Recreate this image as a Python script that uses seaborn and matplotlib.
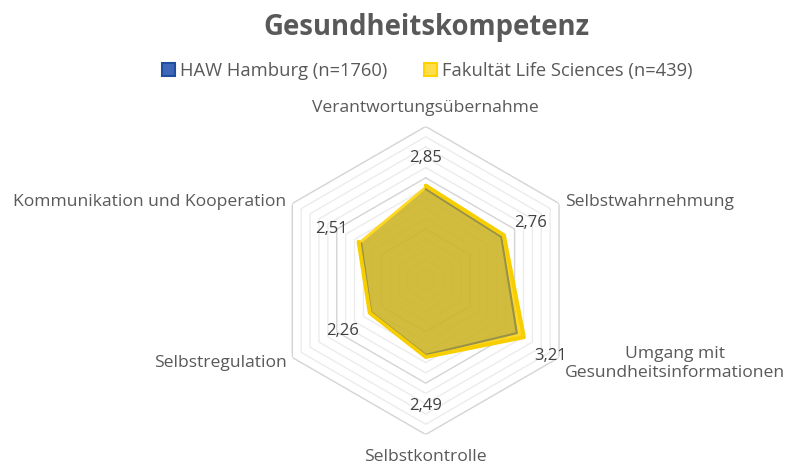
import numpy as np
import matplotlib
matplotlib.use("Agg")
import matplotlib.pyplot as plt
import seaborn as sns
from matplotlib.patches import Patch

# data (scale 1..4)
categories = ["Verantwortungsübernahme", "Selbstwahrnehmung",
              "Umgang mit\nGesundheitsinformationen", "Selbstkontrolle",
              "Selbstregulation", "Kommunikation und Kooperation"]
haw_values = [2.78, 2.70, 3.05, 2.45, 2.23, 2.45]
fak_values = [2.85, 2.76, 3.21, 2.49, 2.26, 2.51]
series_names = ["HAW Hamburg (n=1760)", "Fakultät Life Sciences (n=439)"]
r_min, r_max = 1.0, 4.0

sns.set_theme(style="white")
plt.rcParams['font.family'] = ['Open Sans', 'DejaVu Sans']

text_col = "#595959"
blue = "#1f4e9f"
yellow = "#ffd200"

fig = plt.figure(figsize=(7.87, 4.65), dpi=100)
ax = fig.add_axes([0.3452, 0.0656, 0.3914, 0.6624], projection="polar")
ax.set_theta_zero_location("N")
ax.set_theta_direction(-1)
ax.set_ylim(r_min, r_max)
ax.grid(False)
ax.spines["polar"].set_visible(False)
ax.set_xticks([])
ax.set_yticks([])

n = len(categories)
theta = np.linspace(0, 2 * np.pi, n, endpoint=False)
theta_c = np.append(theta, theta[0])

# hexagonal grid rings, every 0.2, darker at whole numbers
for lvl in np.arange(1.2, r_max + 0.01, 0.2):
    major = abs(lvl - round(lvl)) < 1e-6
    ax.plot(theta_c, [lvl] * (n + 1), color="#d4d4d4" if major else "#ececec",
            lw=1.0, zorder=1)

haw_c = np.append(haw_values, haw_values[0])
fak_c = np.append(fak_values, fak_values[0])

ax.fill(theta_c, fak_c, color=yellow, alpha=0.85, lw=0, zorder=2)
ax.fill(theta_c, haw_c, color=blue, alpha=0.2, lw=0, zorder=3)
sns.lineplot(x=theta_c, y=haw_c, sort=False, ax=ax, color="#97914a", lw=1.5, zorder=4)
sns.lineplot(x=theta_c, y=fak_c, sort=False, ax=ax, color="#f7cf00", lw=2.8, zorder=5)
ax.set_xlabel("")
ax.set_ylabel("")

# value labels (Fakultät series)
px = 0.72
for t, v in zip(theta, fak_values):
    dx, dy = np.sin(t), np.cos(t)
    dist = 31 if dy > -0.99 else 46
    ax.annotate(f"{v:.2f}".replace(".", ","), xy=(t, v),
                xytext=(dx * dist * px, (dy * dist - 3) * px), textcoords="offset points",
                ha="center", va="center", fontsize=12, color="#404040", zorder=6)

# category labels
for t, lab in zip(theta, categories):
    dx, dy = np.sin(t), np.cos(t)
    if abs(dx) < 0.1:
        ha = "center"
        va = "bottom" if dy > 0 else "top"
        off = (0, 10 * px if dy > 0 else -15 * px)
    else:
        ha = "left" if dx > 0 else "right"
        va = "center"
        off = (6 * px * np.sign(dx), 1 * px if dy > 0 else -6 * px)
    ax.annotate(lab, xy=(t, r_max), xytext=off, textcoords="offset points",
                ha=ha, va=va, multialignment="center", fontsize=12.6, color=text_col,
                annotation_clip=False)

fig.text(0.542, 0.94, "Gesundheitskompetenz", ha="center", va="center",
         fontsize=19.8, fontweight="bold", color=text_col)

handles = [Patch(facecolor="#3f67b8", edgecolor=blue, lw=1.5),
           Patch(facecolor="#ffde4a", edgecolor=yellow, lw=1.5)]
fig.legend(handles, series_names, loc="center", bbox_to_anchor=(0.543, 0.847),
           ncol=2, frameon=False, fontsize=13.2, handlelength=0.7, handleheight=0.7,
           handletextpad=0.3, columnspacing=2.0, labelcolor=text_col)

fig.savefig("out.png", dpi=100)
